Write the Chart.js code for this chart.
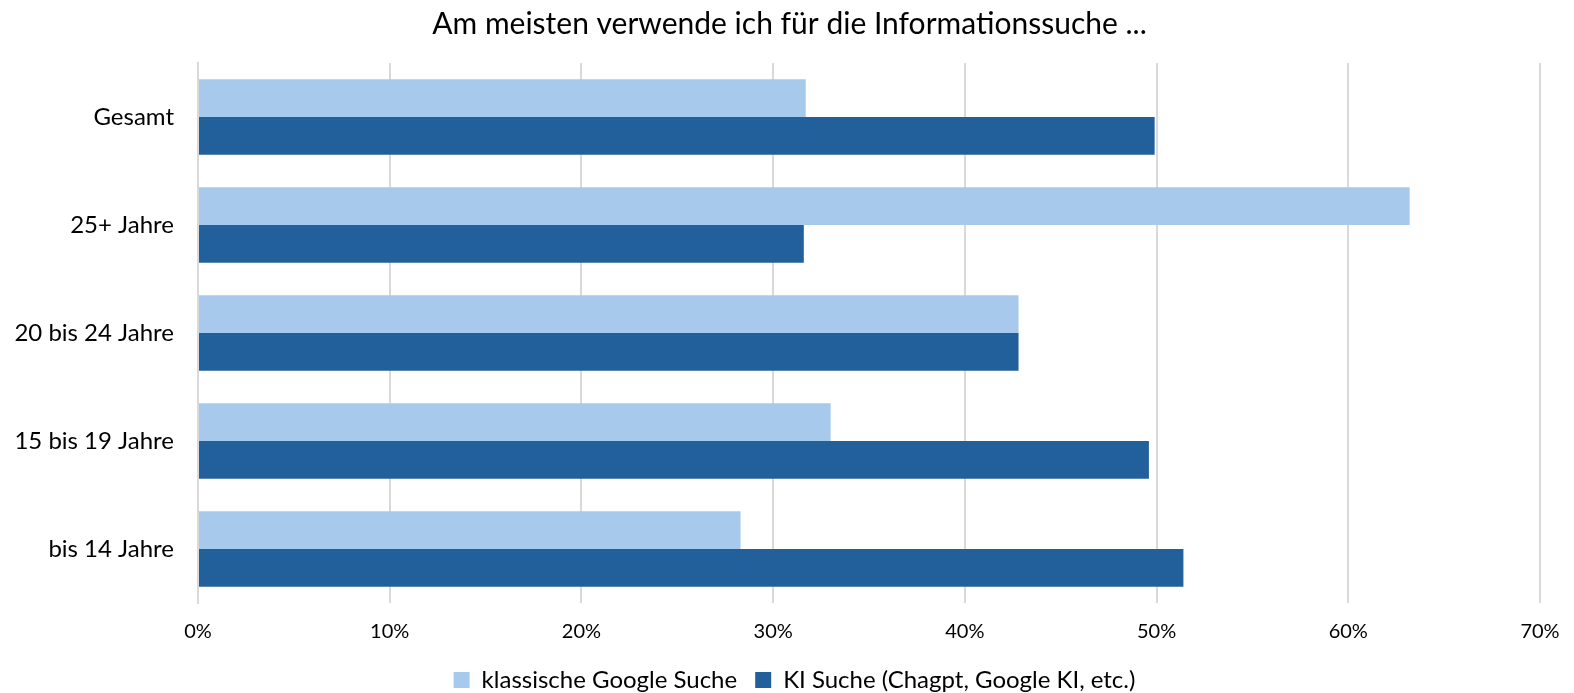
<!DOCTYPE html>
<html>
<head>
<meta charset="utf-8">
<script src="https://cdn.jsdelivr.net/npm/chart.js@4"></script>
<style>
  html, body { margin: 0; padding: 0; background: #fff; }
  #wrap { width: 1574px; height: 693px; }
</style>
</head>
<body>
<div id="wrap"><canvas id="chart"></canvas></div>
<script>
var categories = ["Gesamt", "25+ Jahre", "20 bis 24 Jahre", "15 bis 19 Jahre", "bis 14 Jahre"];
var googleValues = [31.7, 63.2, 42.8, 33.0, 28.3];
var kiValues = [49.9, 31.6, 42.8, 49.6, 51.4];
var seriesNames = ["klassische Google Suche", "KI Suche (Chagpt, Google KI, etc.)"];
var xTicks = [0, 10, 20, 30, 40, 50, 60, 70];

var fontFamily = "Lato, 'Liberation Sans', sans-serif";
Chart.defaults.font.family = fontFamily;
Chart.defaults.color = "#000";

// title and legend sit a bit right of the canvas centre in the original,
// legend is moved up closer to the axis labels
var shiftBlocks = {
    id: "shiftBlocks",
    afterLayout: function(chart) {
        if (chart.titleBlock) chart.titleBlock.left += 29;
        if (chart.legend) {
            chart.legend.left += 39;
            chart.legend.top -= 11;
            chart.legend.bottom -= 11;
        }
    }
};

var ctx = document.getElementById("chart");
var myChart = new Chart(ctx, {
    type: "bar",
    data: {
        labels: categories,
        datasets: [{
            label: seriesNames[0],
            data: googleValues,
            backgroundColor: "#a7caec",
            borderWidth: 0,
            categoryPercentage: 0.7,
            barPercentage: 1.0
        }, {
            label: seriesNames[1],
            data: kiValues,
            backgroundColor: "#21609b",
            borderWidth: 0,
            categoryPercentage: 0.7,
            barPercentage: 1.0
        }]
    },
    plugins: [shiftBlocks],
    options: {
        indexAxis: "y",
        responsive: true,
        maintainAspectRatio: false,
        animation: false,
        layout: { padding: { left: 10, right: 34, top: 4, bottom: -20 } },
        plugins: {
            title: {
                display: true,
                text: "Am meisten verwende ich für die Informationssuche ...",
                font: { size: 30, weight: "normal" },
                color: "#000",
                padding: { top: 2, bottom: 21 }
            },
            legend: {
                position: "bottom",
                labels: {
                    boxWidth: 16,
                    boxHeight: 16,
                    padding: 18,
                    font: { size: 24 },
                    color: "#000"
                }
            },
            tooltip: { enabled: false }
        },
        scales: {
            x: {
                min: 0,
                max: 70,
                afterBuildTicks: function(scale) {
                    scale.ticks = xTicks.map(function(v) { return { value: v }; });
                },
                afterFit: function(scale) { scale.paddingRight = 0; },
                ticks: {
                    callback: function(v) { return v + "%"; },
                    font: { size: 20 },
                    color: "#000",
                    padding: 17,
                    maxRotation: 0
                },
                grid: { color: "#d9d9d9", lineWidth: 2, drawTicks: false },
                border: { display: false }
            },
            y: {
                afterFit: function(scale) { scale.width = 188; },
                ticks: {
                    font: { size: 24 },
                    color: "#000",
                    padding: 24
                },
                grid: { display: false, drawTicks: false },
                border: { display: true, color: "#d9d9d9", width: 2 }
            }
        }
    }
});
</script>
</body>
</html>
